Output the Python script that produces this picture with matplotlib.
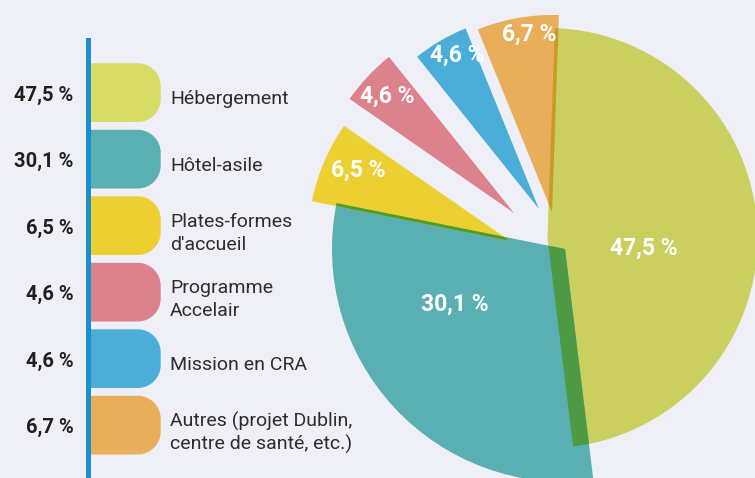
import matplotlib
matplotlib.use("Agg")
import matplotlib.pyplot as plt
from matplotlib.patches import Wedge, Rectangle, PathPatch
from matplotlib.path import Path
import numpy as np

plt.rcParams['font.family'] = ['Roboto', 'DejaVu Sans']

# ---------------- data ----------------
categories = ["Hébergement", "Hôtel-asile", "Plates-formes\nd'accueil",
              "Programme\nAccelair", "Mission en CRA",
              "Autres (projet Dublin,\ncentre de santé, etc.)"]
values = [47.5, 30.1, 6.5, 4.6, 4.6, 6.7]
pct_labels = ["47,5 %", "30,1 %", "6,5 %", "4,6 %", "4,6 %", "6,7 %"]

# ---------------- styles / layout (pixels) ----------------
BG = '#eeeff7'
pie_colors = ['#cbcf5f', '#5aafb2', '#ecd031', '#dc828d', '#4aaed8', '#e8ae5a']
legend_colors = ['#d7dc64', '#5aafb2', '#ecd031', '#dc828d', '#4aaed8', '#e8ae5a']
wedge_centers = [(547.5, 238), (565, 249), (510, 241), (514, 213), (539, 209), (552, 212)]
wedge_radii = [210, 233, 202, 200, 195, 197]
pie_label_pos = [(644, 246), (455, 302), (358, 168), (387, 94), (457, 53), (529, 32)]
overlaps = [(1, 0, '#4e9a44'), (2, 1, '#4f9b2a'), (5, 0, '#c89b25')]  # (upper, lower, colour)
start_offset = 2.0  # degrees clockwise from 12 o'clock

fig = plt.figure(figsize=(7.55, 4.78), dpi=100)
fig.patch.set_facecolor(BG)
ax = fig.add_axes([0, 0, 1, 1])
ax.set_xlim(0, 755)
ax.set_ylim(478, 0)
ax.axis('off')
ax.set_facecolor(BG)

# ---------------- pie ----------------
total = float(sum(values))
cum = np.concatenate([[0], np.cumsum(values)]) / total * 360.0 + start_offset
wedges = []
for i, v in enumerate(values):
    a0, a1 = cum[i], cum[i + 1]
    w = Wedge(wedge_centers[i], wedge_radii[i], a0 - 90, a1 - 90,
              facecolor=pie_colors[i], edgecolor='none', linewidth=0, zorder=2)
    ax.add_patch(w)
    wedges.append(w)

for up, low, col in overlaps:
    a0, a1 = cum[up], cum[up + 1]
    ov = Wedge(wedge_centers[up], wedge_radii[up], a0 - 90, a1 - 90,
               facecolor=col, edgecolor='none', linewidth=0, zorder=3)
    ax.add_patch(ov)
    ov.set_clip_path(wedges[low])

for (x, y), t in zip(pie_label_pos, pct_labels):
    ax.text(x, y + 8.5, t, color='white', fontsize=16.5, fontweight='bold',
            ha='center', va='baseline', zorder=5)


# ---------------- legend ----------------
def tab_path(x0, x1, y0, y1, r):
    k = 0.5523 * r
    verts = [(x0, y0), (x1 - r, y0),
             (x1 - r + k, y0), (x1, y0 + r - k), (x1, y0 + r),
             (x1, y1 - r),
             (x1, y1 - r + k), (x1 - r + k, y1), (x1 - r, y1),
             (x0, y1), (x0, y0)]
    codes = [Path.MOVETO, Path.LINETO,
             Path.CURVE4, Path.CURVE4, Path.CURVE4,
             Path.LINETO,
             Path.CURVE4, Path.CURVE4, Path.CURVE4,
             Path.LINETO, Path.CLOSEPOLY]
    return Path(verts, codes)


ax.add_patch(Rectangle((86, 38), 5, 440, facecolor='#1b8fca', edgecolor='none', zorder=4))
tab_top0, tab_step, tab_h = 63.3, 66.5, 58.7
for i, cat in enumerate(categories):
    y0 = tab_top0 + tab_step * i
    yc = y0 + tab_h / 2
    ax.add_patch(PathPatch(tab_path(90.5, 160.7, y0, y0 + tab_h, 23),
                           facecolor=legend_colors[i], edgecolor='none', zorder=2))
    ax.text(73.5, yc + 8, pct_labels[i], fontsize=14.5, fontweight='bold',
            color='#231f20', ha='right', va='baseline')
    lines = cat.split('\n')
    n = len(lines)
    first = yc + 11.4 - 10.2 * (n - 1)
    for k, ln in enumerate(lines):
        ax.text(170, first + 23 * k, ln, fontsize=14, color='#2d2d2d',
                ha='left', va='baseline')

fig.savefig('out.png', dpi=100, facecolor=BG)
